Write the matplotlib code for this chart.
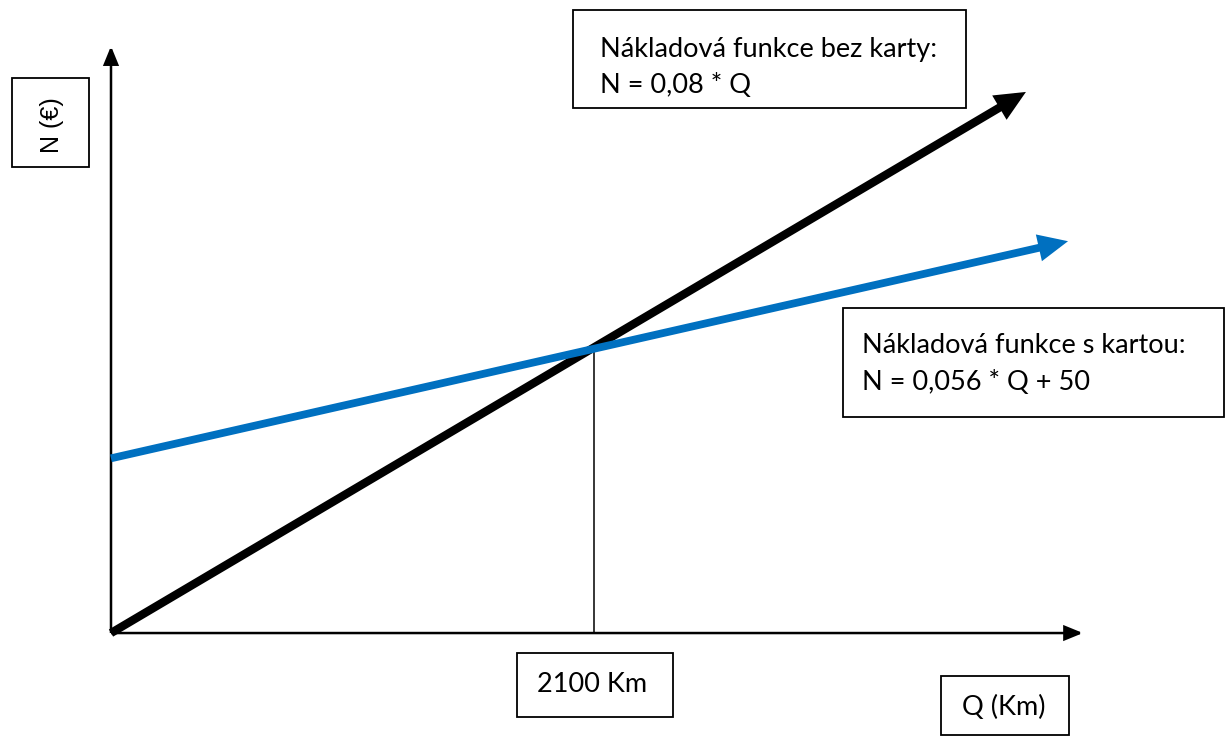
import matplotlib
matplotlib.use("Agg")
import matplotlib.pyplot as plt
from matplotlib.patches import Rectangle

# schematic values (not to scale)
q_black = [0, 3978]
n_black = [0, 319]
q_blue = [0, 4161]
n_blue = [103, 231]
q_cross = 2100
n_cross = 168
q_axis_end = 4226
n_axis_end = 346

label_black = ["Nákladová funkce bez karty:", "N = 0,08 * Q"]
label_blue = ["Nákladová funkce s kartou:", "N = 0,056 * Q + 50"]
label_cross = "2100 Km"
label_x = "Q (Km)"
label_y = "N (€)"

W, H = 1226, 736
fig = plt.figure(figsize=(W / 100, H / 100), dpi=100)
ax = fig.add_axes([0, 0, 1, 1])
ax.set_xlim(-482.6, 4847.8)
ax.set_ylim(-60.7, 373.2)
ax.axis("off")


def px(x, y):
    return x / W, 1 - y / H


def arrow(x0, y0, x1, y1, color, lw, hl, hw):
    ax.annotate("", xy=(x1, y1), xytext=(x0, y0),
                arrowprops=dict(arrowstyle="-|>,head_length=%s,head_width=%s" % (hl, hw),
                                color=color, lw=lw, mutation_scale=10,
                                shrinkA=0, shrinkB=0, joinstyle="miter",
                                capstyle="butt"))


# axes
arrow(0, 0, q_axis_end, 0, "black", 1.8, 1.1, 0.45)
arrow(0, 0, 0, n_axis_end, "black", 1.8, 1.1, 0.45)

# drop line at the break-even point
ax.plot([q_cross, q_cross], [0, n_cross], color="black", lw=1.1)

# cost lines
arrow(q_black[0], n_black[0], q_black[1], n_black[1], "black", 6, 1.2, 0.55)
arrow(q_blue[0], n_blue[0], q_blue[1], n_blue[1], "#0070C0", 5.6, 1.2, 0.55)


def box(x0, y0, x1, y1):
    a = px(x0, y1)
    b = px(x1, y0)
    fig.add_artist(Rectangle(a, b[0] - a[0], b[1] - a[1], transform=fig.transFigure,
                             fill=False, ec="black", lw=1.3))


def label(x, y, s, ha="left"):
    ax.text(*px(x, y), s, transform=fig.transFigure, fontsize=19.5,
            family="Lato", ha=ha, va="baseline")


box(573, 10, 966, 108)
label(600, 57, label_black[0])
label(600, 93, label_black[1])

box(843, 308, 1224, 417)
label(862, 353, label_blue[0])
label(862, 390, label_blue[1])

box(517, 653, 673, 717)
label(592, 692, label_cross, ha="center")

box(941, 676, 1069, 735)
label(1004, 715, label_x, ha="center")

box(12, 78, 89, 167)
ax.text(*px(52, 125), label_y, transform=fig.transFigure, fontsize=18,
        family="Liberation Sans", ha="center", va="center", rotation=90)

fig.savefig("out.png", dpi=100)
